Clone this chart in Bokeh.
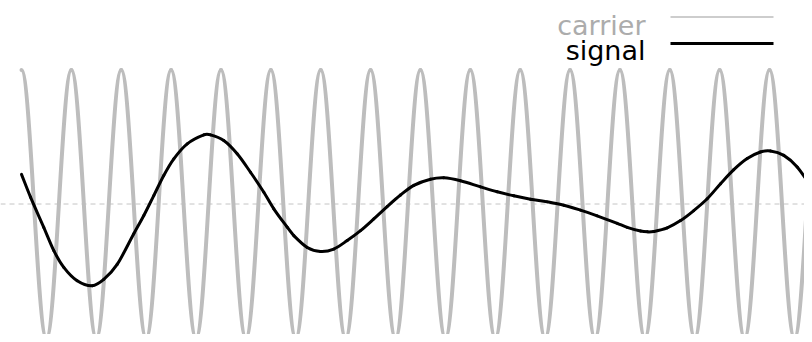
from bokeh.plotting import figure
from bokeh.models import Range1d, Span, Label, ColumnDataSource
from bokeh.embed import file_html
from bokeh.resources import INLINE

# ---- data (time in s, amplitude in carrier units) ----
# carrier: successive peaks / troughs (16 cycles over 1 s)
carrier_t = [0.0, 0.03125, 0.0625, 0.09375, 0.125, 0.15625, 0.1875, 0.21875,
             0.25, 0.28125, 0.3125, 0.34375, 0.375, 0.40625, 0.4375, 0.46875,
             0.5, 0.53125, 0.5625, 0.59375, 0.625, 0.65625, 0.6875, 0.71875,
             0.75, 0.78125, 0.8125, 0.84375, 0.875, 0.90625, 0.9375, 0.96875, 1.0]
carrier_v = [1, -1, 1, -1, 1, -1, 1, -1, 1, -1, 1, -1, 1, -1, 1, -1,
             1, -1, 1, -1, 1, -1, 1, -1, 1, -1, 1, -1, 1, -1, 1, -1, 1]

signal_t = [0.0, 0.0113, 0.0279, 0.0405, 0.0530, 0.0698, 0.0886, 0.1031, 0.1199,
            0.1407, 0.1533, 0.1658, 0.1783, 0.1909, 0.2077, 0.2285, 0.2369, 0.2535,
            0.2703, 0.2870, 0.3037, 0.3162, 0.3330, 0.3413, 0.3581, 0.3747, 0.3914,
            0.4082, 0.4249, 0.4416, 0.4583, 0.4750, 0.4917, 0.5126, 0.5293, 0.5502,
            0.5753, 0.5962, 0.6170, 0.6379, 0.6589, 0.6797, 0.7006, 0.7215, 0.7466,
            0.7591, 0.7758, 0.7846, 0.7925, 0.8093, 0.8260, 0.8426, 0.8594, 0.8761,
            0.8927, 0.9095, 0.9261, 0.9387, 0.9554, 0.9722, 0.9913]
signal_v = [0.221, 0.051, -0.174, -0.348, -0.473, -0.573, -0.610, -0.563, -0.451,
            -0.222, -0.086, 0.063, 0.213, 0.337, 0.449, 0.516, 0.516, 0.474,
            0.375, 0.237, 0.088, -0.036, -0.173, -0.236, -0.324, -0.354, -0.336,
            -0.273, -0.199, -0.111, -0.019, 0.067, 0.139, 0.185, 0.196, 0.174,
            0.128, 0.091, 0.061, 0.036, 0.016, -0.009, -0.046, -0.088, -0.144,
            -0.174, -0.202, -0.208, -0.205, -0.178, -0.124, -0.049, 0.039, 0.151,
            0.256, 0.339, 0.388, 0.396, 0.363, 0.276, 0.114]

legend_labels = ["carrier", "signal"]

# ---- styling ----
CARRIER_COLOR = "#bdbdbd"
SIGNAL_COLOR = "#000000"
W, H = 804, 334
XR = (-0.02632, 0.98133)
YR = (-0.9739, 1.5187)

p = figure(width=W, height=H, output_backend="svg", toolbar_location=None,
           x_range=Range1d(*XR), y_range=Range1d(*YR),
           x_axis_type=None, y_axis_type=None, min_border=0,
           outline_line_color=None, background_fill_color="white",
           border_fill_color="white")

# zero reference line
p.add_layout(Span(location=0, dimension="width", line_color="#c4c4c4",
                  line_dash="5 4", line_width=1, level="underlay"))

# carrier: half-wave bezier segments between consecutive extremes
k = 0.3634
x0 = carrier_t[:-1]
x1 = carrier_t[1:]
y0 = carrier_v[:-1]
y1 = carrier_v[1:]
cx0 = [a + k * (b - a) for a, b in zip(x0, x1)]
cx1 = [b - k * (b - a) for a, b in zip(x0, x1)]
csrc = ColumnDataSource(dict(x0=x0, y0=y0, x1=x1, y1=y1,
                             cx0=cx0, cy0=y0, cx1=cx1, cy1=y1))
p.bezier(x0="x0", y0="y0", x1="x1", y1="y1", cx0="cx0", cy0="cy0",
         cx1="cx1", cy1="cy1", source=csrc, line_color=CARRIER_COLOR,
         line_width=4, line_cap="round")

# signal: smooth Hermite (finite-difference tangents) bezier through read points
n = len(signal_t)
def slope(i):
    a = max(0, i - 1)
    b = min(n - 1, i + 1)
    return (signal_v[b] - signal_v[a]) / (signal_t[b] - signal_t[a])
sx0, sy0, sx1, sy1, scx0, scy0, scx1, scy1 = [], [], [], [], [], [], [], []
for i in range(n - 1):
    h = signal_t[i + 1] - signal_t[i]
    m0, m1 = slope(i), slope(i + 1)
    sx0.append(signal_t[i]); sy0.append(signal_v[i])
    sx1.append(signal_t[i + 1]); sy1.append(signal_v[i + 1])
    scx0.append(signal_t[i] + h / 3.0); scy0.append(signal_v[i] + m0 * h / 3.0)
    scx1.append(signal_t[i + 1] - h / 3.0); scy1.append(signal_v[i + 1] - m1 * h / 3.0)
ssrc = ColumnDataSource(dict(x0=sx0, y0=sy0, x1=sx1, y1=sy1,
                             cx0=scx0, cy0=scy0, cx1=scx1, cy1=scy1))
p.bezier(x0="x0", y0="y0", x1="x1", y1="y1", cx0="cx0", cy0="cy0",
         cx1="cx1", cy1="cy1", source=ssrc, line_color=SIGNAL_COLOR,
         line_width=3, line_cap="round")

# ---- custom legend (label on the left, line sample on the right) ----
def sx_to_x(sx):
    return XR[0] + sx / W * (XR[1] - XR[0])

def sy_to_y(sy_from_top):
    return YR[1] - sy_from_top / H * (YR[1] - YR[0])

leg_colors = [CARRIER_COLOR, SIGNAL_COLOR]
leg_text_colors = ["#acacac", "#000000"]
leg_widths = [1.5, 3]
leg_line_y = [16.5, 43.0]    # px from top
leg_base_y = [25.0, 50.0]    # text baseline, px from top
for lab, col, tcol, lw, ly, by in zip(legend_labels, leg_colors, leg_text_colors,
                                      leg_widths, leg_line_y, leg_base_y):
    p.segment(x0=[sx_to_x(670)], y0=[sy_to_y(ly)], x1=[sx_to_x(773)],
              y1=[sy_to_y(ly)], line_color=col, line_width=lw)
    p.add_layout(Label(x=645, y=H - by, x_units="screen", y_units="screen",
                       text=lab, text_align="right", text_baseline="alphabetic",
                       text_font="DejaVu Sans", text_font_size="27px",
                       text_color=tcol))

open("out.html", "w").write(file_html(p, INLINE))
